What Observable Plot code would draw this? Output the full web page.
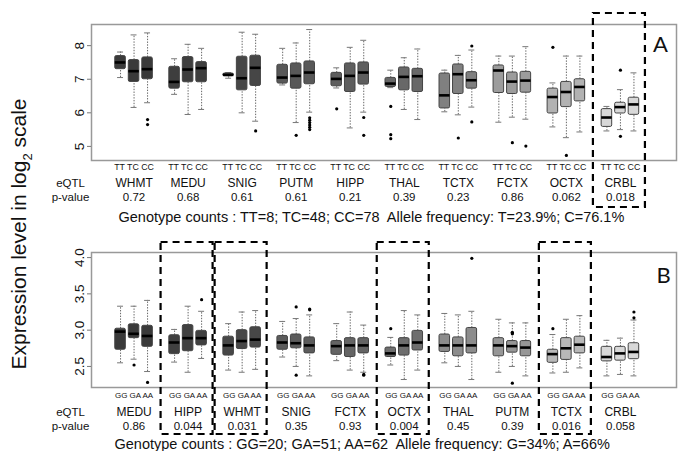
<!DOCTYPE html>
<html><head><meta charset="utf-8">
<script src="https://cdn.jsdelivr.net/npm/d3@7"></script>
<script src="https://cdn.jsdelivr.net/npm/@observablehq/plot@0.6"></script>
<style>
body{margin:0;background:#fff;}
#wrap{position:relative;width:686px;height:451px;overflow:hidden;font-family:"Liberation Sans",Arial,sans-serif;}
#top{position:absolute;left:0;top:0;}
#bot{position:absolute;left:0;top:228px;}
#ylab{position:absolute;left:21px;top:234px;transform:translate(-50%,-50%) rotate(-90deg);white-space:nowrap;font-family:"Liberation Sans",Arial,sans-serif;font-size:21px;color:#111;}
#ylab sub{font-size:13px;}
</style></head><body>
<div id="wrap"><div id="top"></div><div id="bot"></div><div id="ylab">Expression level in log<sub>2</sub> scale</div></div>
<script>
// ---------- Panel A (T/C) ----------
const topRegions = ["WHMT","MEDU","SNIG","PUTM","HIPP","THAL","TCTX","FCTX","OCTX","CRBL"];
const topPvalues = ["0.72","0.68","0.61","0.61","0.21","0.39","0.23","0.86","0.062","0.018"];
const topGenotypes = ["TT","TC","CC"];
const topLow  = [7.05,6.16,6.30, 6.55,5.95,6.10, 7.03,6.00,5.75, 6.83,5.71,6.02, 6.74,5.55,6.02, 6.75,6.10,5.80, 6.03,5.94,6.17, 5.72,5.87,5.81, 5.58,5.26,5.43, 5.46,5.50,5.46];
const topQ1   = [7.30,6.92,7.00, 6.72,6.91,6.91, 7.09,6.67,6.80, 6.87,6.72,6.85, 6.79,6.62,6.84, 6.77,6.67,6.62, 6.13,6.56,6.72, 6.59,6.56,6.60, 5.98,6.17,6.34, 5.58,5.98,5.94];
const topMed  = [7.50,7.24,7.30, 6.92,7.29,7.33, 7.13,7.03,7.34, 7.05,7.10,7.20, 7.01,7.10,7.20, 6.87,7.07,7.09, 6.52,7.15,6.97, 7.26,6.93,6.96, 6.47,6.62,6.77, 5.86,6.17,6.25];
const topQ3   = [7.69,7.57,7.65, 7.37,7.66,7.51, 7.17,7.67,7.70, 7.43,7.47,7.53, 7.19,7.47,7.50, 7.04,7.35,7.31, 7.17,7.44,7.21, 7.41,7.20,7.22, 6.72,6.92,7.00, 6.11,6.30,6.45];
const topHigh = [7.81,8.32,8.38, 7.61,8.04,7.92, 7.20,8.40,8.34, 7.92,8.08,8.48, 7.34,7.95,8.16, 7.27,7.64,7.90, 7.27,7.71,7.87, 7.69,7.69,7.97, 6.89,7.69,7.69, 6.19,6.69,7.19];
const topOutliers = [
  ["WHMT","CC",5.80],["WHMT","CC",5.65],["SNIG","CC",5.46],["PUTM","TC",5.33],
  ["PUTM","CC",5.85],["PUTM","CC",5.78],["PUTM","CC",5.71],["PUTM","CC",5.64],["PUTM","CC",5.57],["PUTM","CC",5.50],
  ["HIPP","TT",6.12],["HIPP","CC",5.86],["HIPP","CC",5.33],
  ["THAL","TT",6.19],["THAL","TT",5.35],["THAL","TT",5.23],
  ["TCTX","TC",5.25],["TCTX","CC",7.99],["TCTX","CC",5.73],
  ["FCTX","TC",5.11],["FCTX","CC",5.01],["OCTX","TT",7.95],["OCTX","TC",4.73],
  ["CRBL","TC",7.27],["CRBL","TC",5.30]
];
const topHighlight = ["CRBL"];
const topTicks = [5,6,7,8];
const topCaption = "Genotype counts : TT=8; TC=48; CC=78\u00a0 Allele frequency: T=23.9%; C=76.1%";

// ---------- Panel B (G/A) ----------
const botRegions = ["MEDU","HIPP","WHMT","SNIG","FCTX","OCTX","THAL","PUTM","TCTX","CRBL"];
const botPvalues = ["0.86","0.044","0.031","0.35","0.93","0.004","0.45","0.39","0.016","0.058"];
const botGenotypes = ["GG","GA","AA"];
const botLow  = [2.55,2.60,2.43, 2.56,2.42,2.61, 2.45,2.42,2.46, 2.63,2.50,2.37, 2.58,2.45,2.42, 2.52,2.32,2.45, 2.55,2.50,2.32, 2.42,2.50,2.37, 2.41,2.42,2.48, 2.37,2.39,2.37];
const botQ1   = [2.73,2.89,2.77, 2.67,2.71,2.79, 2.65,2.74,2.76, 2.73,2.75,2.68, 2.66,2.63,2.68, 2.63,2.65,2.72, 2.70,2.64,2.68, 2.64,2.69,2.64, 2.55,2.59,2.68, 2.57,2.58,2.60];
const botMed  = [2.98,2.95,2.92, 2.83,2.89,2.89, 2.79,2.85,2.87, 2.83,2.82,2.79, 2.78,2.79,2.79, 2.68,2.79,2.83, 2.79,2.79,2.79, 2.79,2.78,2.76, 2.67,2.75,2.80, 2.63,2.68,2.70];
const botQ3   = [3.02,3.08,3.06, 2.93,3.07,2.99, 2.91,3.00,3.04, 2.92,2.94,2.90, 2.85,2.89,2.89, 2.76,2.89,2.99, 2.94,2.90,3.03, 2.89,2.85,2.85, 2.73,2.89,2.91, 2.77,2.77,2.82];
const botHigh = [3.33,3.33,3.41, 3.01,3.33,3.26, 3.09,3.25,3.27, 3.12,3.16,3.21, 3.09,3.25,3.07, 2.90,3.27,3.21, 3.23,3.21,3.26, 3.15,3.10,3.10, 2.94,3.15,3.20, 2.86,2.89,3.14];
const botOutliers = [
  ["MEDU","GA",2.52],["MEDU","AA",2.28],["HIPP","AA",3.42],
  ["SNIG","GA",3.32],["SNIG","GA",2.38],["SNIG","AA",3.28],["SNIG","AA",3.29],
  ["FCTX","AA",2.38],["FCTX","AA",2.39],["OCTX","GG",3.02],["THAL","AA",3.99],
  ["PUTM","GA",2.97],["PUTM","GA",2.96],["PUTM","GA",2.95],["PUTM","GA",2.27],
  ["TCTX","GG",3.02],["CRBL","AA",3.25],["CRBL","AA",3.17]
];
const botHighlight = ["HIPP","WHMT","OCTX","TCTX"];
const botTicks = [2.5,3.0,3.5,4.0];
const botCaption = "Genotype counts : GG=20; GA=51; AA=62\u00a0 Allele frequency: G=34%; A=66%";

// ---------- styles ----------
const topShades = ["#3a3a3a","#3e3e3e","#464646","#585858","#5e5e5e","#686868","#808080","#9c9c9c","#b2b2b2","#d8d8d8"];
const botShades = ["#3a3a3a","#404040","#474747","#5c5c5c","#646464","#6e6e6e","#8c8c8c","#979797","#b8b8b8","#d8d8d8"];

function panel(o) {
  const boxes = [];
  o.regions.forEach((r, g) => o.genos.forEach((ge, i) => {
    const k = g * 3 + i;
    boxes.push({region: r, geno: ge, pos: g * 4 + i, lo: o.low[k], q1: o.q1[k], med: o.med[k], q3: o.q3[k], hi: o.high[k]});
  }));
  const posOf = (r, ge) => o.regions.indexOf(r) * 4 + o.genos.indexOf(ge);
  const outs = o.outliers.map(([r, ge, v]) => ({pos: posOf(r, ge), v}));
  const centers = o.regions.map((r, g) => ({r, p: o.pvals[g], c: g * 4 + 1}));
  const hl = o.highlight.map(r => ({g: o.regions.indexOf(r)}));
  const hw = 0.39;
  const T = {lineAnchor: "middle", fill: "#111"};
  return Plot.plot({
    width: 686, height: o.height,
    marginTop: 24, marginBottom: o.height - 159 - (o.extra || 0), marginLeft: 91, marginRight: 10,
    style: {fontFamily: "'Liberation Sans', Arial, sans-serif", background: "transparent", overflow: "visible", color: "#111"},
    x: {domain: [-2.15, 41.15], axis: null},
    y: {domain: o.ydomain},
    color: {domain: o.regions, range: o.shades},
    marks: [
      Plot.ruleX(boxes, {x: "pos", y1: "q3", y2: "hi", stroke: "#666", strokeWidth: 1, strokeDasharray: "1.4,1.4"}),
      Plot.ruleX(boxes, {x: "pos", y1: "lo", y2: "q1", stroke: "#666", strokeWidth: 1, strokeDasharray: "1.4,1.4"}),
      Plot.ruleY(boxes, {y: "hi", x1: d => d.pos - 0.22, x2: d => d.pos + 0.22, stroke: "#777", strokeWidth: 1}),
      Plot.ruleY(boxes, {y: "lo", x1: d => d.pos - 0.22, x2: d => d.pos + 0.22, stroke: "#777", strokeWidth: 1}),
      Plot.rect(boxes, {x1: d => d.pos - hw, x2: d => d.pos + hw, y1: "q1", y2: "q3", fill: "region", stroke: "#444", strokeWidth: 1, rx: 1.5}),
      Plot.ruleY(boxes, {y: "med", x1: d => d.pos - hw, x2: d => d.pos + hw, stroke: "#000", strokeWidth: 2.6}),
      Plot.dot(outs, {x: "pos", y: "v", r: 1.6, fill: "#000", stroke: "none"}),
      Plot.frame({stroke: "#999", strokeWidth: 1.5}),
      Plot.axisY({ticks: o.ticks, tickSize: 4, tickPadding: 4, tickRotate: -90, fontSize: 13.5, stroke: "#777", label: null, tickFormat: o.tickFormat}),
      Plot.text(centers, {...T, x: "c", text: () => o.genos.join(" "), frameAnchor: "bottom", dy: o.dyGeno, fontSize: o.genoSize}),
      Plot.text(centers, {...T, x: "c", text: "r", frameAnchor: "bottom", dy: o.dyName, fontSize: 12}),
      Plot.text(centers, {...T, x: "c", text: "p", frameAnchor: "bottom", dy: o.dyName + 14, fontSize: 11.5}),
      Plot.text(["eQTL"], {...T, frameAnchor: "bottom-left", dx: -21, dy: o.dyName, fontSize: 11.5, textAnchor: "middle"}),
      Plot.text(["p-value"], {...T, frameAnchor: "bottom-left", dx: -21, dy: o.dyName + 14, fontSize: 11.5, textAnchor: "middle"}),
      Plot.text([o.caption], {...T, frameAnchor: "bottom-left", dx: o.capDx, dy: o.capDy, fontSize: 14.5, textAnchor: "start"}),
      Plot.text([o.letter], {...T, frameAnchor: "top-right", dx: o.letterDx, dy: o.letterDy, fontSize: 22, fontFamily: "Lato, sans-serif", textAnchor: "middle"}),
      Plot.rect(hl, {x1: d => d.g * 4 - 1.0, x2: d => d.g * 4 + 2.85, insetTop: o.hlTop, insetBottom: o.hlBottom, fill: "none", stroke: "#000", strokeWidth: 2.2, strokeDasharray: "7,5"})
    ]
  });
}

document.getElementById("top").append(panel({
  height: 228, regions: topRegions, genos: topGenotypes, pvals: topPvalues,
  low: topLow, q1: topQ1, med: topMed, q3: topQ3, high: topHigh, outliers: topOutliers,
  highlight: topHighlight, ticks: topTicks, tickFormat: d3.format("d"), ydomain: [4.58, 8.63],
  shades: topShades, caption: topCaption, letter: "A", genoSize: 8.8, dyGeno: 6.5, dyName: 23,
  capDx: 27, capDy: 57, letterDx: -16, letterDy: 20, hlTop: -11, hlBottom: -47, extra: 1
}));
document.getElementById("bot").append(panel({
  height: 223, regions: botRegions, genos: botGenotypes, pvals: botPvalues,
  low: botLow, q1: botQ1, med: botMed, q3: botQ3, high: botHigh, outliers: botOutliers,
  highlight: botHighlight, ticks: botTicks, tickFormat: d3.format(".1f"), ydomain: [2.21, 4.07],
  shades: botShades, caption: botCaption, letter: "B", genoSize: 8, dyGeno: 7.5, dyName: 25,
  capDx: 23, capDy: 57, letterDx: -13, letterDy: 23, hlTop: -10, hlBottom: -47, extra: 0
}));
</script>
</body></html>
